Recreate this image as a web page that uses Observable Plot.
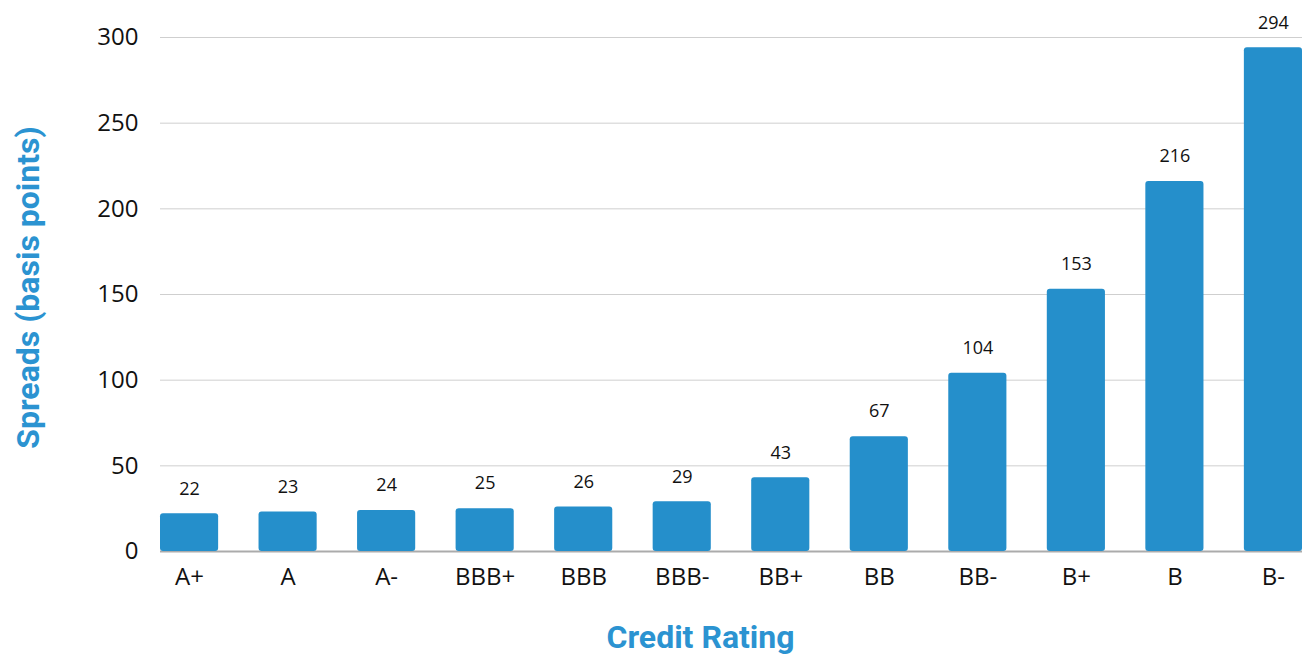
<!DOCTYPE html>
<html>
<head>
<meta charset="utf-8">
<script src="https://cdn.jsdelivr.net/npm/d3@7"></script>
<script src="https://cdn.jsdelivr.net/npm/@observablehq/plot@0.6"></script>
<style>
  html, body { margin: 0; padding: 0; background: #fff; }
</style>
</head>
<body>
<div id="chart"></div>
<script>
const ratings = ["A+", "A", "A-", "BBB+", "BBB", "BBB-", "BB+", "BB", "BB-", "B+", "B", "B-"];
const spreads = [22, 23, 24, 25, 26, 29, 43, 67, 104, 153, 216, 294];
const yTicks = [0, 50, 100, 150, 200, 250, 300];
const yLabel = "Spreads (basis points)";
const xLabel = "Credit Rating";

const data = ratings.map((r, i) => ({rating: r, spread: spreads[i]}));
const blue = "#258fcb";
const labelBlue = "#2b93d1";

const chart = Plot.plot({
  width: 1302,
  height: 660,
  marginLeft: 160,
  marginRight: 0,
  marginTop: 37,
  marginBottom: 109,
  style: {fontFamily: "'Open Sans', sans-serif", fontSize: "24px", color: "#111", background: "#fff"},
  x: {domain: ratings, paddingInner: 0.41, paddingOuter: 0, round: false, label: null, tickSize: 0, tickPadding: 16},
  y: {domain: [0, 300], ticks: yTicks, label: null, tickSize: 0, tickPadding: 22},
  marks: [
    Plot.gridY(yTicks.filter(d => d > 0), {stroke: "#cfcfcf", strokeOpacity: 1, strokeWidth: 1}),
    Plot.ruleY([0], {stroke: "#ababab", strokeWidth: 2}),
    Plot.barY(data, {x: "rating", y: "spread", fill: blue, rx: 3}),
    Plot.text(data, {x: "rating", y: "spread", text: d => String(d.spread), dy: -25, fontSize: 18, fill: "#111"}),
    Plot.axisX({tickSize: 0, tickPadding: 16, fontSize: 24, label: null}),
    Plot.axisY({ticks: yTicks, tickSize: 0, tickPadding: 22, fontSize: 24, label: null}),
    Plot.text([yLabel], {frameAnchor: "left", textAnchor: "middle", dx: -132, dy: -7, rotate: -90, fontSize: 32, fontWeight: "bold", fontFamily: "Roboto, sans-serif", fill: labelBlue}),
    Plot.text([xLabel], {frameAnchor: "bottom", dx: -31, dy: 96, fontSize: 32, fontWeight: "bold", fontFamily: "Roboto, sans-serif", fill: labelBlue})
  ]
});
document.getElementById("chart").appendChild(chart);
</script>
</body>
</html>
